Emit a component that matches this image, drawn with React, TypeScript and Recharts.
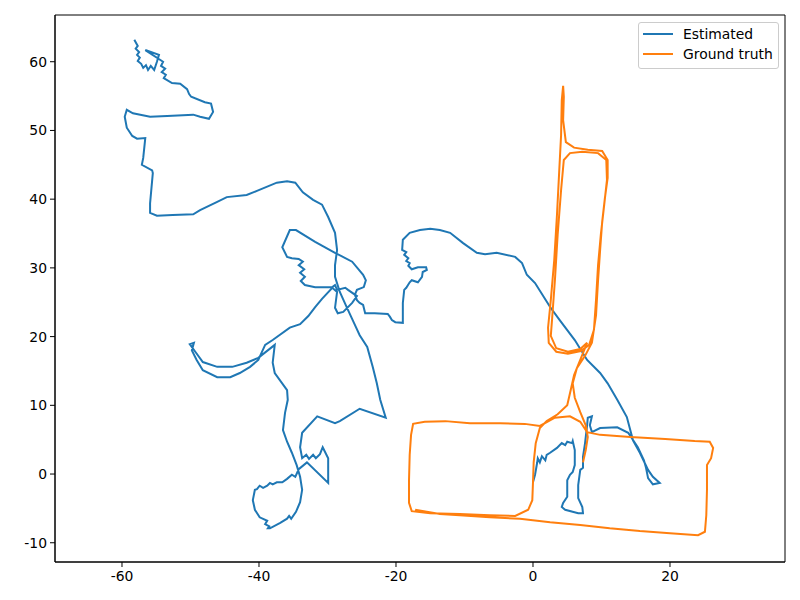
import React from 'react';
import { ScatterChart, Scatter, XAxis, YAxis, ReferenceArea } from 'recharts';

// trajectory points as [x, y]
const estimated: [number, number][] = [
  [-58.2, 63.2], [-57.7, 62.3], [-58.0, 61.9], [-57.5, 61.4], [-57.8, 61.0], [-57.4, 60.6], [-57.7, 60.1],
  [-57.2, 59.7], [-56.9, 59.1], [-56.5, 59.5], [-56.2, 58.8], [-55.8, 59.4], [-55.3, 58.8], [-54.9, 60.0],
  [-54.6, 61.0], [-56.6, 61.7], [-54.0, 60.0], [-54.3, 59.4], [-53.7, 59.0], [-54.2, 58.5], [-53.6, 58.1],
  [-53.9, 57.6], [-52.7, 56.9], [-51.5, 56.8], [-50.5, 56.0], [-50.2, 55.3], [-49.9, 54.9], [-47.9, 54.1],
  [-47.0, 53.9], [-46.7, 52.7], [-47.3, 51.7], [-48.6, 52.0], [-49.6, 52.3], [-53.4, 52.1], [-55.9, 52.0],
  [-58.4, 52.5], [-59.3, 53.0], [-59.6, 52.0], [-59.3, 50.4], [-58.5, 49.2], [-57.8, 48.8], [-56.6, 48.9],
  [-56.9, 46.0], [-57.1, 45.0], [-55.6, 44.2], [-55.5, 43.8], [-55.9, 39.4], [-55.9, 38.0], [-54.9, 37.6],
  [-52.6, 37.7], [-49.6, 37.8], [-48.6, 38.4], [-46.1, 39.6], [-44.7, 40.3], [-41.8, 40.6], [-40.3, 41.2],
  [-37.4, 42.4], [-35.9, 42.6], [-34.7, 42.4], [-33.6, 41.0], [-32.1, 39.9], [-30.8, 39.2], [-29.9, 37.4],
  [-28.9, 35.1], [-28.6, 32.6], [-28.9, 30.4], [-28.9, 28.7], [-28.2, 26.5], [-27.2, 24.3], [-26.0, 21.7],
  [-25.3, 20.2], [-24.2, 18.5], [-23.4, 15.6], [-22.8, 13.2], [-22.3, 10.8], [-21.5, 8.2], [-25.3, 9.5],
  [-28.2, 7.7], [-28.9, 7.4], [-31.5, 8.4], [-33.7, 6.0], [-34.0, 3.9], [-33.7, 2.3], [-33.1, 2.8],
  [-32.7, 2.2], [-32.1, 2.8], [-31.7, 2.3], [-31.1, 2.9], [-30.7, 3.9], [-29.9, 2.3], [-29.9, -1.3],
  [-33.0, 1.7], [-34.2, 0.7], [-34.7, -0.4], [-35.2, -0.1], [-35.9, -0.7], [-36.6, -1.2], [-37.4, -1.2],
  [-38.0, -1.5], [-38.4, -1.3], [-38.8, -1.7], [-39.4, -2.0], [-39.9, -1.7], [-40.3, -2.2], [-40.6, -2.3],
  [-40.9, -3.8], [-40.6, -5.2], [-39.9, -6.3], [-38.8, -6.8], [-39.1, -7.3], [-38.5, -7.6], [-38.7, -7.9],
  [-38.4, -7.9], [-36.9, -7.1], [-35.9, -6.5], [-35.6, -6.1], [-35.3, -6.5], [-34.6, -5.5], [-34.0, -4.1],
  [-33.7, -2.3], [-34.0, -0.4], [-34.5, 1.3], [-35.2, 3.1], [-35.9, 4.7], [-36.5, 6.4], [-36.2, 8.9],
  [-35.8, 10.8], [-35.9, 12.2], [-37.7, 14.7], [-38.0, 16.2], [-37.7, 18.8], [-40.1, 16.9], [-41.8, 16.2],
  [-43.9, 15.6], [-46.1, 15.6], [-48.2, 16.3], [-49.3, 17.8], [-50.1, 18.9], [-49.5, 19.1], [-49.8, 18.0],
  [-49.1, 16.6], [-48.2, 15.1], [-46.1, 14.1], [-44.2, 14.1], [-42.8, 14.7], [-41.3, 15.6], [-40.1, 16.6],
  [-39.6, 17.7], [-39.1, 18.8], [-38.0, 19.5], [-35.5, 21.3], [-34.0, 21.8], [-32.8, 23.0], [-31.8, 24.3],
  [-30.8, 25.5], [-29.3, 27.1], [-28.6, 26.5], [-28.9, 24.2], [-28.5, 23.4], [-27.7, 23.6], [-26.4, 24.9],
  [-25.7, 25.9], [-27.0, 26.8], [-27.4, 27.1], [-28.6, 26.8], [-28.9, 27.5], [-29.3, 27.2], [-31.8, 27.2],
  [-33.3, 27.5], [-33.9, 28.1], [-33.3, 28.7], [-34.0, 29.3], [-33.4, 29.8], [-34.2, 30.4], [-33.6, 30.9],
  [-34.2, 31.3], [-35.2, 31.4], [-35.9, 31.6], [-36.6, 33.0], [-35.5, 35.5], [-34.6, 35.5], [-31.8, 33.8],
  [-28.9, 32.2], [-26.4, 30.9], [-24.8, 29.0], [-24.4, 28.2], [-24.7, 27.2], [-25.7, 26.8], [-26.0, 26.1],
  [-25.7, 25.3], [-25.3, 24.9], [-24.8, 24.6], [-24.5, 23.4], [-23.1, 23.4], [-21.2, 23.3], [-20.9, 22.9],
  [-20.6, 22.4], [-20.1, 22.1], [-19.0, 22.0], [-19.0, 24.9], [-18.8, 26.8], [-18.5, 27.1], [-18.0, 27.9],
  [-17.7, 28.2], [-16.8, 27.9], [-16.2, 28.7], [-16.1, 29.4], [-15.5, 29.7], [-15.6, 30.1], [-16.8, 30.1],
  [-17.7, 29.8], [-18.2, 30.3], [-18.0, 30.7], [-18.5, 31.0], [-18.2, 31.4], [-18.8, 31.9], [-18.5, 32.3],
  [-19.1, 32.6], [-19.0, 34.1], [-18.0, 35.1], [-16.5, 35.5], [-15.0, 35.7], [-13.6, 35.5], [-12.1, 35.1],
  [-10.2, 33.6], [-8.2, 32.2], [-7.0, 32.0], [-5.3, 32.2], [-2.6, 31.6], [-1.6, 30.7], [-0.9, 29.0],
  [0.3, 27.8], [2.5, 24.3], [3.9, 22.4], [6.1, 19.5], [7.9, 16.6], [9.8, 14.7], [10.9, 13.2], [12.3, 10.8],
  [13.7, 8.3], [14.6, 4.9], [15.6, 3.1], [16.8, 0.6], [17.5, -0.4], [18.5, -1.3], [17.5, -1.5], [16.8, -0.6],
  [16.5, 0.9], [16.2, 2.0], [15.3, 3.9], [13.9, 6.0], [12.3, 6.8], [9.8, 6.7], [8.6, 6.1], [8.3, 7.1],
  [8.6, 8.4], [8.0, 8.2], [7.9, 7.1], [7.6, 4.5], [7.3, 2.5], [7.3, 0.9], [6.9, 0.6], [6.6, -1.6],
  [6.6, -3.5], [7.2, -4.8], [7.3, -5.7], [6.6, -5.7], [4.7, -5.2], [4.2, -4.8], [4.4, -4.2], [5.0, -3.3],
  [5.0, -0.9], [5.4, -0.1], [5.8, 0.3], [6.1, 1.3], [6.1, 3.5], [5.8, 4.8], [5.7, 4.5], [5.0, 4.7],
  [4.7, 4.2], [4.2, 4.5], [3.5, 3.8], [2.5, 3.1], [2.0, 2.8], [1.8, 2.0], [1.3, 2.6], [1.0, 1.7],
  [0.7, 2.3], [0.6, 1.6], [0.3, -0.1], [0.0, -1.2],
];

const groundTruth: [number, number][] = [
  [7.3, 1.7], [7.7, 3.5], [8.0, 5.4], [7.7, 7.1], [6.9, 9.0], [6.1, 11.1], [5.8, 13.2], [6.4, 15.4],
  [7.6, 17.2], [8.6, 19.1], [9.2, 23.1], [9.5, 28.2], [9.8, 32.6], [10.1, 36.7], [10.5, 40.2], [10.9, 43.1],
  [10.9, 45.7], [10.1, 47.0], [8.0, 47.2], [6.0, 47.5], [4.8, 48.3], [4.4, 51.5], [4.5, 54.9], [4.4, 56.5],
  [4.2, 54.4], [4.1, 49.3], [3.8, 43.5], [3.5, 37.7], [3.1, 31.1], [2.6, 25.3], [2.2, 21.3], [2.3, 19.1],
  [3.4, 17.8], [5.1, 17.5], [7.0, 17.9], [8.2, 18.8], [8.9, 21.0], [9.2, 25.3], [9.5, 30.4], [9.9, 34.8],
  [10.4, 39.2], [10.8, 42.8], [10.7, 45.7], [9.5, 46.7], [7.2, 46.9], [5.4, 46.7], [4.5, 45.7], [4.1, 41.3],
  [3.6, 34.8], [3.2, 28.2], [2.8, 22.7], [2.6, 20.1], [3.4, 18.3], [5.1, 17.8], [6.9, 18.2], [7.9, 19.1],
  [6.9, 16.6], [6.0, 14.4], [5.5, 12.2], [5.0, 10.0], [3.6, 8.7], [2.0, 7.7], [1.0, 6.7], [0.4, 4.5],
  [0.1, 1.7], [0.0, -1.2], [-0.1, -3.8], [-0.7, -5.2], [-2.6, -6.1], [-6.3, -6.0], [-10.7, -5.8],
  [-15.0, -5.7], [-17.7, -5.4], [-18.1, -4.2], [-18.1, -0.9], [-18.0, 2.8], [-17.8, 5.7], [-17.5, 7.3],
  [-15.8, 7.6], [-12.8, 7.7], [-9.2, 7.4], [-4.8, 7.4], [-1.2, 7.3], [1.0, 7.0], [3.2, 8.2], [5.4, 8.4],
  [6.9, 7.6], [7.9, 6.1], [9.8, 5.7], [14.2, 5.4], [19.3, 5.1], [23.6, 4.8], [25.8, 4.7], [26.3, 3.8],
  [26.0, 2.3], [25.4, 1.3], [25.4, -2.3], [25.3, -6.0], [25.1, -8.4], [24.1, -8.9], [20.0, -8.6],
  [15.6, -8.3], [11.2, -7.9], [6.9, -7.4], [2.5, -7.0], [-1.9, -6.5], [-6.3, -6.3], [-10.7, -6.0],
  [-13.6, -5.8], [-17.2, -5.2],
];

const xTicks = [-60, -40, -20, 0, 20];
const yTicks = [-10, 0, 10, 20, 30, 40, 50, 60];
const xDomain: [number, number] = [-69.78, 36.79];
const yDomain: [number, number] = [-12.8, 66.8];

const BLUE = '#1f77b4';
const ORANGE = '#ff7f0e';
const FONT = '"DejaVu Sans", sans-serif';

const toPoints = (pts: [number, number][]) => pts.map(([x, y]) => ({ x, y }));

const NoDot = () => <g />;

const LegendBox = () => (
  <div
    style={{
      position: 'absolute', left: 638, top: 22, width: 141, height: 47,
      border: '1px solid #cccccc', borderRadius: 3, background: 'rgba(255,255,255,0.8)',
      fontFamily: FONT, fontSize: 13.9, color: '#000', boxSizing: 'border-box',
    }}
  >
    {[{ label: 'Estimated', color: BLUE }, { label: 'Ground truth', color: ORANGE }].map((it, i) => (
      <div key={it.label} style={{ position: 'absolute', left: 4, top: 2 + i * 20, height: 18, display: 'flex', alignItems: 'center', whiteSpace: 'nowrap' }}>
        <div style={{ width: 30, height: 2, background: it.color, marginRight: 10 }} />
        <span>{it.label}</span>
      </div>
    ))}
  </div>
);

export default function App() {
  const tickStyle = { fill: '#000', fontSize: 13.9, fontFamily: FONT };
  return (
    <div style={{ position: 'absolute', left: 0, top: 0, width: 800, height: 600, background: '#fff' }}>
      <ScatterChart width={800} height={600} margin={{ top: 15, right: 15, left: 0, bottom: 0 }}>
        <XAxis
          type="number" dataKey="x" domain={xDomain} ticks={xTicks} allowDataOverflow
          height={38} tick={tickStyle} tickSize={5} tickMargin={4}
          stroke="#000" tickLine={{ stroke: '#000' }}
        />
        <YAxis
          type="number" dataKey="y" domain={yDomain} ticks={yTicks} allowDataOverflow
          width={55} tick={tickStyle} tickSize={5} tickMargin={3}
          stroke="#000" tickLine={{ stroke: '#000' }}
        />
        <ReferenceArea x1={xDomain[0]} x2={xDomain[1]} y1={yDomain[0]} y2={yDomain[1]} fill="none" stroke="#000" strokeOpacity={1} />
        <Scatter
          name="Estimated" data={toPoints(estimated)} shape={<NoDot />}
          line={{ stroke: BLUE, strokeWidth: 2 }} lineJointType="linear" isAnimationActive={false}
        />
        <Scatter
          name="Ground truth" data={toPoints(groundTruth)} shape={<NoDot />}
          line={{ stroke: ORANGE, strokeWidth: 2 }} lineJointType="linear" isAnimationActive={false}
        />
      </ScatterChart>
      <LegendBox />
    </div>
  );
}
